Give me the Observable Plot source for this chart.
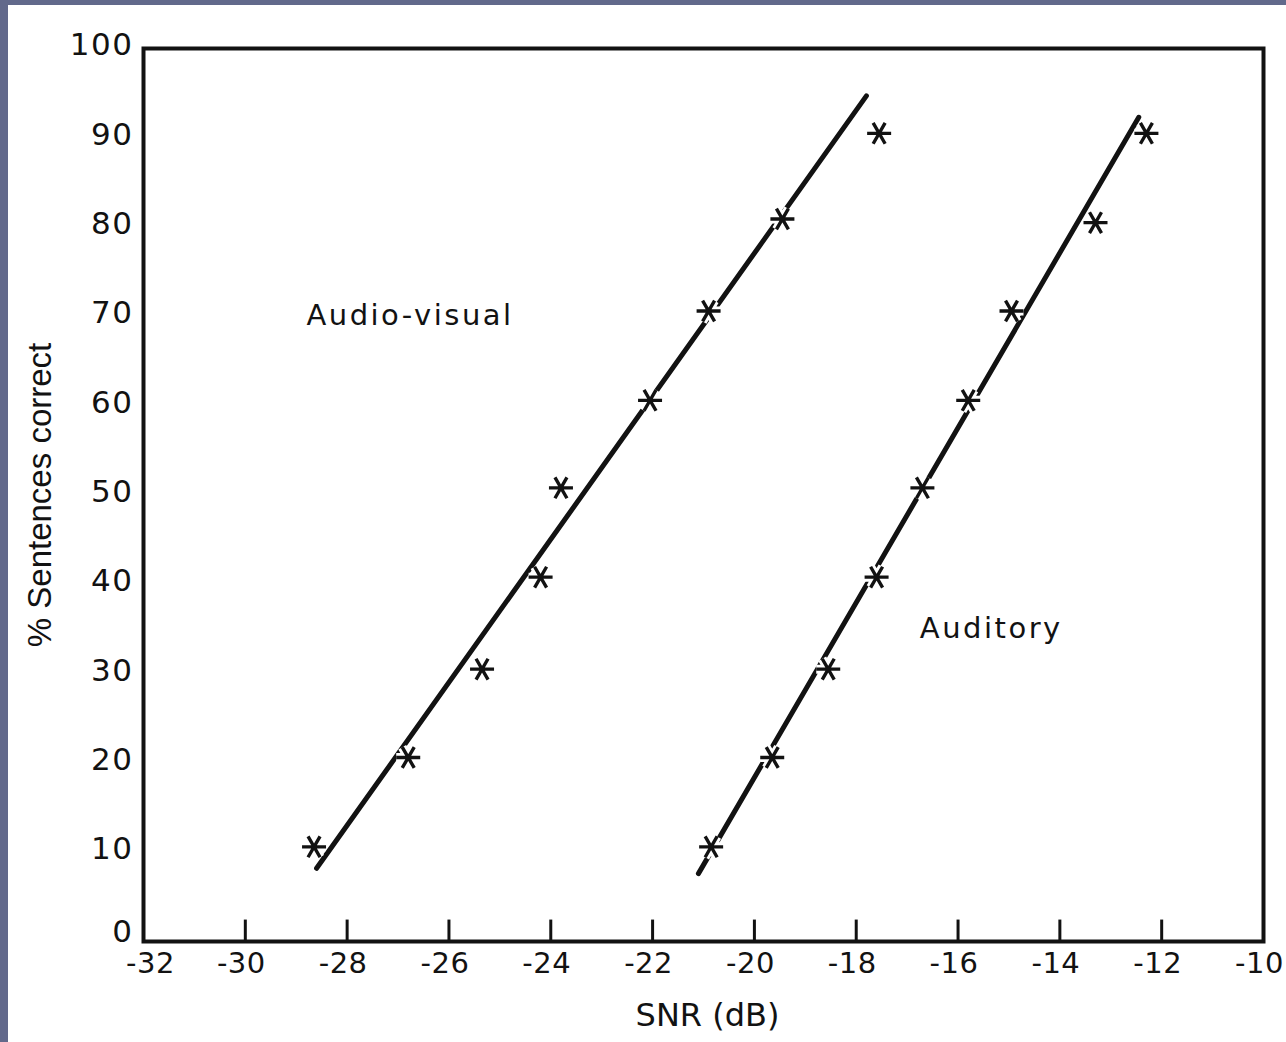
<!DOCTYPE html>
<html>
<head>
<meta charset="utf-8">
<script src="https://cdn.jsdelivr.net/npm/d3@7"></script>
<script src="https://cdn.jsdelivr.net/npm/@observablehq/plot@0.6"></script>
<style>
  html, body { margin: 0; padding: 0; background: #62698b; overflow: hidden; }
  #wrap { position: absolute; left: 8px; top: 5px; width: 1278px; height: 1037px; background: #fff; }
  g[aria-label="x-axis tick label"] text { letter-spacing: 0.5px; }
  g[aria-label="y-axis tick label"] text { letter-spacing: 1.5px; }
</style>
</head>
<body>
<div id="wrap"></div>
<script>
// Data
const avX  = [-28.65, -26.8, -25.35, -24.2, -23.8, -22.05, -20.9, -19.45, -17.55];
const avY  = [10.6, 20.6, 30.5, 40.8, 50.8, 60.6, 70.6, 80.9, 90.5];
const audX = [-20.85, -19.65, -18.55, -17.6, -16.7, -15.8, -14.95, -13.3, -12.3];
const audY = [10.6, 20.6, 30.5, 40.8, 50.8, 60.6, 70.6, 80.5, 90.5];
// fitted lines (end points)
const avLineX  = [-28.6, -17.8];
const avLineY  = [8.2, 94.7];
const audLineX = [-21.1, -12.45];
const audLineY = [7.6, 92.3];
// ticks
const xTickLabels = [-32, -30, -28, -26, -24, -22, -20, -18, -16, -14, -12, -10];
const xTickMarks  = [-30, -28, -26, -24, -22, -20, -18, -16, -14, -12];
const yTickLabels = [0, 10, 20, 30, 40, 50, 60, 70, 80, 90, 100];
// texts
const xTitle = "SNR (dB)";
const yTitle = "% Sentences correct";
const annotations = [
  {x: -28.8, y: 70.1, text: "Audio-visual"},
  {x: -16.75, y: 35.0, text: "Auditory"}
];

const ink = "#121212";
const avPts  = avX.map((x, i) => ({x, y: avY[i]}));
const audPts = audX.map((x, i) => ({x, y: audY[i]}));
const avLine  = avLineX.map((x, i) => ({x, y: avLineY[i]}));
const audLine = audLineX.map((x, i) => ({x, y: audLineY[i]}));
const allPts = avPts.concat(audPts);

const asterisk6 = {
  draw(ctx, size) {
    const r = Math.sqrt(size / Math.PI);
    const c = r * 0.5, s = r * Math.sqrt(3) / 2;
    ctx.moveTo(-r, 0); ctx.lineTo(r, 0);
    ctx.moveTo(-c, -s); ctx.lineTo(c, s);
    ctx.moveTo(c, -s); ctx.lineTo(-c, s);
  }
};

const xFirst = xTickLabels.filter(d => d === -32);
const xRest = xTickLabels.filter(d => d !== -32);
const yFirst = yTickLabels.filter(d => d === 0);
const yRest = yTickLabels.filter(d => d !== 0);

const chart = Plot.plot({
  width: 1278,
  height: 1037,
  marginLeft: 135,
  marginRight: 23,
  marginTop: 43,
  marginBottom: 101,
  x: {domain: [-32, -10]},
  y: {domain: [0, 100]},
  style: {fontFamily: "DejaVu Sans", color: ink, background: "white", overflow: "visible"},
  marks: [
    Plot.line(avLine, {x: "x", y: "y", stroke: ink, strokeWidth: 5, strokeLinecap: "round"}),
    Plot.line(audLine, {x: "x", y: "y", stroke: ink, strokeWidth: 5, strokeLinecap: "round"}),
    Plot.dot(allPts, {x: "x", y: "y", symbol: asterisk6, r: 12, fill: "none", stroke: "white", strokeWidth: 9}),
    Plot.dot(allPts, {x: "x", y: "y", symbol: asterisk6, r: 12, fill: "none", stroke: ink, strokeWidth: 3.4}),
    Plot.ruleX(xTickMarks, {x: d => d, y1: 0, y2: 2.4, stroke: ink, strokeWidth: 3}),
    Plot.frame({stroke: ink, strokeWidth: 4}),
    Plot.axisX({ticks: xFirst, tickSize: 0, tickPadding: 11, dx: 7, fontSize: 29, tickFormat: d => String(d), label: null}),
    Plot.axisX({ticks: xRest, tickSize: 0, tickPadding: 11, dx: -4, fontSize: 29, tickFormat: d => String(d), label: null}),
    Plot.axisY({ticks: yFirst, tickSize: 0, tickPadding: 10, dy: -9, fontSize: 31, tickFormat: d => String(d), label: null}),
    Plot.axisY({ticks: yRest, tickSize: 0, tickPadding: 10, dy: -3, fontSize: 31, tickFormat: d => String(d), label: null}),
    Plot.text([xTitle], {text: d => d, frameAnchor: "bottom", textAnchor: "middle", lineAnchor: "middle", dy: 74, dx: 4, fontSize: 32, fill: ink}),
    Plot.text([yTitle], {text: d => d, frameAnchor: "left", textAnchor: "middle", lineAnchor: "middle", rotate: -90, dx: -103, fontSize: 33, fontFamily: "Liberation Sans", fill: ink}),
    Plot.text(annotations, {x: "x", y: "y", text: "text", textAnchor: "start", fontSize: 29, fill: ink})
  ]
});
const annotTexts = new Set(annotations.map(d => d.text));
chart.querySelectorAll("text").forEach(t => {
  if (annotTexts.has(t.textContent)) t.style.letterSpacing = "2.5px";
});
document.getElementById("wrap").appendChild(chart);
</script>
</body>
</html>
